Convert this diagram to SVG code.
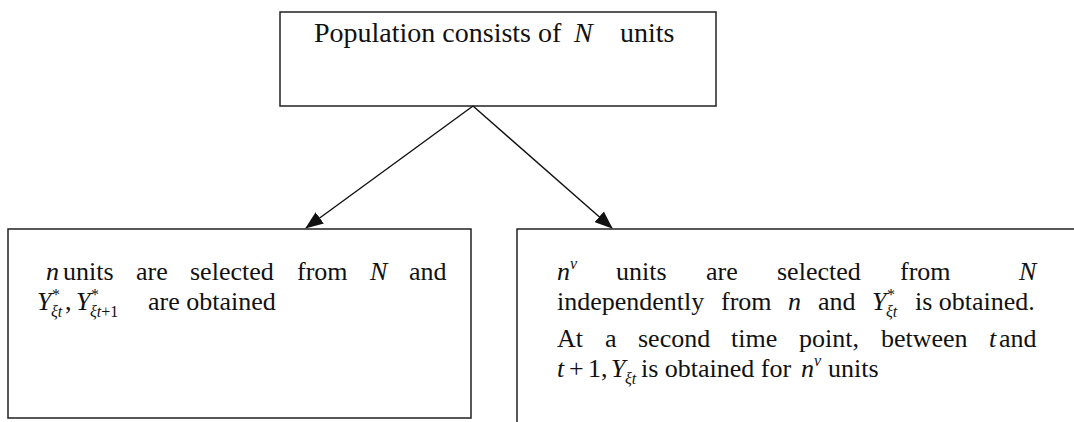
<svg xmlns="http://www.w3.org/2000/svg" width="1074" height="422" viewBox="0 0 1074 422">
<style>
text{font-family:"Liberation Serif","Times New Roman",serif;font-size:26px;fill:#111}
.t{font-size:28px}
.i{font-style:italic}
.s{font-size:16px}
.box{fill:none;stroke:#222;stroke-width:1.5}
.conn{stroke:#111;stroke-width:1.4;fill:none}
</style>
<defs>
<marker id="ah" markerUnits="userSpaceOnUse" markerWidth="18" markerHeight="14" refX="17" refY="7" orient="auto"><path d="M0,0 L18,7 L0,14 z" fill="#111"/></marker>
</defs>
<rect width="1074" height="422" fill="#fff"/>
<g id="top">
<rect class="box" x="280" y="12" width="436" height="94"/>
<text class="t" y="42"><tspan x="314">Population consists of</tspan><tspan x="574" class="i">N</tspan><tspan x="620">units</tspan></text>
</g>
<g id="connectors">
<line class="conn" x1="473" y1="106" x2="306" y2="228" marker-end="url(#ah)"/>
<line class="conn" x1="473" y1="106" x2="612" y2="228" marker-end="url(#ah)"/>
</g>
<g id="left">
<path class="box" d="M8 229 H471 V418 H8 Z"/>
<text y="280"><tspan x="46" class="i">n</tspan><tspan x="63">units</tspan><tspan x="136">are</tspan><tspan x="190">selected</tspan><tspan x="297">from</tspan><tspan x="370" class="i">N</tspan><tspan x="409">and</tspan></text>
<text y="310"><tspan x="37" class="i">Y</tspan><tspan x="65">,</tspan><tspan x="76" class="i">Y</tspan><tspan x="148">are obtained</tspan></text>
<text class="s" x="52" y="300">*</text>
<text class="s i" x="51" y="317">ξt</text>
<text class="s" x="91" y="300">*</text>
<text class="s" y="317"><tspan x="90" class="i">ξt</tspan><tspan>+1</tspan></text>
</g>
<g id="right">
<path class="box" d="M1074 229 H517 V422"/>
<text y="280"><tspan x="557" class="i">n</tspan><tspan x="616">units</tspan><tspan x="706">are</tspan><tspan x="777">selected</tspan><tspan x="900">from</tspan><tspan x="1019" class="i">N</tspan></text>
<text class="s i" x="570" y="269">v</text>
<text y="310"><tspan x="557">independently</tspan><tspan x="721">from</tspan><tspan x="788" class="i">n</tspan><tspan x="818">and</tspan><tspan x="872" class="i">Y</tspan><tspan x="915">is obtained.</tspan></text>
<text class="s" x="887" y="300">*</text>
<text class="s i" x="886" y="317">ξt</text>
<text y="347"><tspan x="557">At</tspan><tspan x="605">a</tspan><tspan x="638">second</tspan><tspan x="731">time</tspan><tspan x="799">point,</tspan><tspan x="881">between</tspan><tspan x="989" class="i">t</tspan><tspan x="999">and</tspan></text>
<text y="377"><tspan x="557" class="i">t</tspan><tspan x="569">+</tspan><tspan x="588">1,</tspan><tspan x="611" class="i">Y</tspan><tspan x="641">is obtained for</tspan><tspan x="801" class="i">n</tspan><tspan x="828">units</tspan></text>
<text class="s i" x="625" y="384">ξt</text>
<text class="s i" x="814" y="366">v</text>
</g>
</svg>
